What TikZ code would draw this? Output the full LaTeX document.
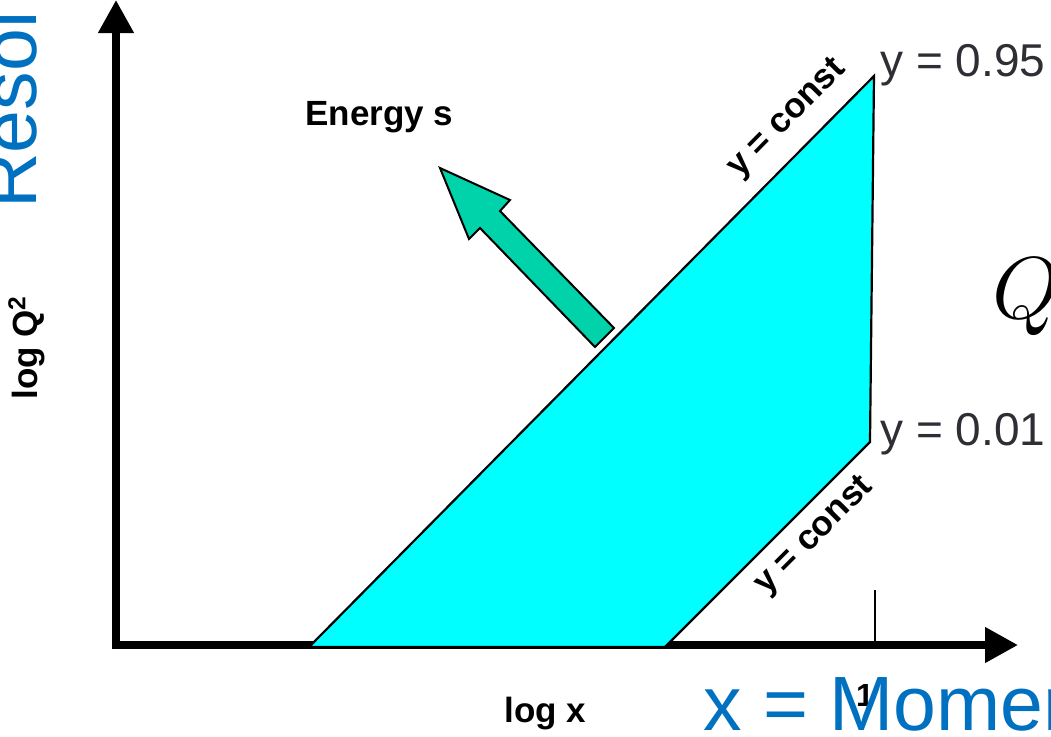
\RequirePackage{fix-cm}
\documentclass[tikz,border=0pt]{standalone}
\usepackage{fontspec}
\setmainfont{Liberation Sans}
\usepackage{xcolor}
\usetikzlibrary{arrows.meta, positioning}

\definecolor{regioncyan}{RGB}{0,255,255}
\definecolor{energygreen}{RGB}{0,210,170}
\definecolor{titleblue}{RGB}{0,112,192}
\definecolor{valuegray}{RGB}{46,46,52}

\begin{document}
\begin{tikzpicture}[
    x=0.5pt, y=-0.5pt,
    axis/.style={line width=3.75pt, {Triangle[length=16.5pt, width=17pt]}-{Triangle[length=16.5pt, width=17pt]}},
    region/.style={draw, line width=1.1pt, fill=regioncyan, line join=miter},
    energy/.style={draw, line width=1pt, fill=energygreen},
    tag/.style={font=\fontsize{17.5}{20}\selectfont\bfseries, inner sep=0pt},
    value/.style={font=\fontsize{23}{26}\selectfont, text=valuegray, inner sep=0pt, anchor=base west},
    title/.style={font=\fontsize{38.5}{44}\selectfont, text=titleblue, inner sep=0pt, anchor=base west}
]
\useasboundingbox (0,0) rectangle (1051,736);
\clip (0,0) rectangle (1051,736);

% AXES
\coordinate (origin) at (116,645);
\coordinate (xend) at (1018,645);
\coordinate (yend) at (116,0);
\draw[axis] (yend) -- (origin) -- (xend);

% KINEMATIC REGION
\coordinate (lowleft) at (309,647);
\coordinate (topright) at (874,76);
\coordinate (lowright) at (870,442);
\coordinate (xright) at (665,647);
\draw[region] (lowleft) -- (topright) -- (lowright) -- (xright) -- cycle;

% y = const lines
\path (lowleft) -- (topright) node[tag, sloped, above=8pt, pos=0.886] (yconsttop) {y = const};
\path (xright) -- (lowright) node[tag, sloped, below=6pt, pos=0.635] (yconstlow) {y = const};

% ENERGY ARROW
\draw[energy] (440,168) -- (510,200) -- (500,211) -- (614,328) -- (595,347) -- (480,228) -- (469,239) -- cycle;
\node[tag, anchor=base west] (energy) at (305,125) {Energy s};

% TICK AT x = 1
\coordinate (one) at (875,645);
\draw[line width=1pt] (one) -- ++(0,-55);
\node[tag, font=\fontsize{16}{18}\selectfont\bfseries, anchor=base] (onelabel) at (865,706) {1};

% AXIS LABELS
\node[tag, anchor=base west] (logx) at (504,722) {log x};
\node[tag, rotate=90, anchor=base west] (logq) at (38,400) {log Q\textsuperscript{2}};
\node[value] (ytopval) at (880,76) {y = 0.95};
\node[value] (ylowval) at (880,445) {y = 0.01};

% TITLES
\node[title] (xname) at (703,730) {x = Momen};
\node[title, rotate=90] (resol) at (36,209) {Resol};
\node[font=\fontsize{44}{50}\selectfont, anchor=base west, inner sep=0pt] (qsym) at (992,318) {$Q$};

\end{tikzpicture}
\end{document}
